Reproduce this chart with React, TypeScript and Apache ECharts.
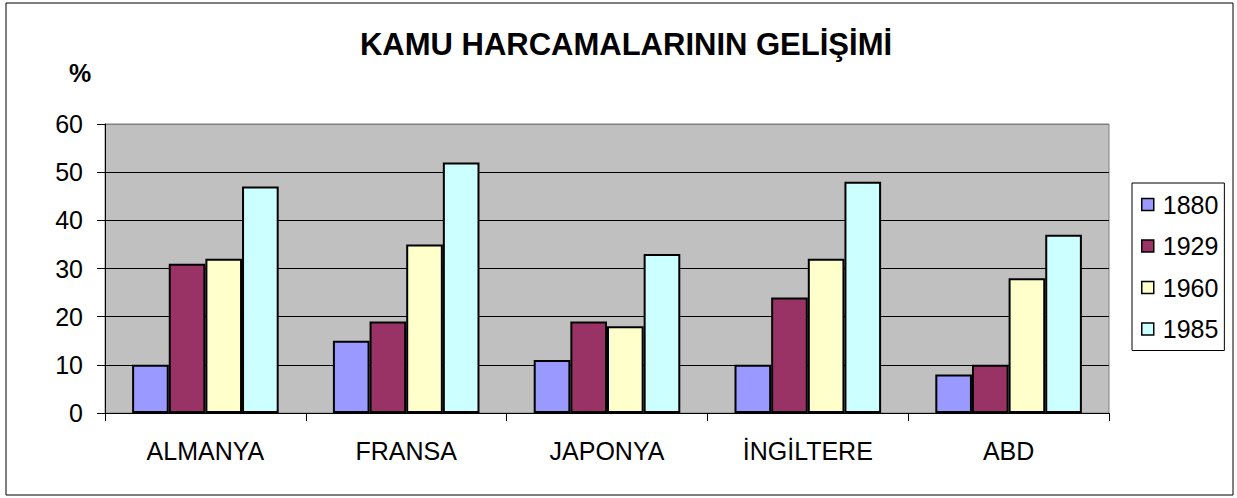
import React, { useEffect, useRef } from "react";
import * as echarts from "echarts";

const categories = ["ALMANYA", "FRANSA", "JAPONYA", "İNGİLTERE", "ABD"];
const years = ["1880", "1929", "1960", "1985"];
const v1880 = [10, 15, 11, 10, 8];
const v1929 = [31, 19, 19, 24, 10];
const v1960 = [32, 35, 18, 32, 28];
const v1985 = [47, 52, 33, 48, 37];
const colors = ["#9999FF", "#993366", "#FFFFCC", "#CCFFFF"];
const yTicks = [0, 10, 20, 30, 40, 50, 60];

const FONT = "'Liberation Sans', Arial, sans-serif";

export default function App() {
  const ref = useRef<HTMLDivElement>(null);
  useEffect(() => {
    document.body.style.margin = "0";
    const chart = echarts.init(ref.current!, undefined, { renderer: "svg" });
    const seriesData = [v1880, v1929, v1960, v1985];
    chart.setOption({
      animation: false,
      backgroundColor: "#FFFFFF",
      textStyle: { fontFamily: FONT },
      title: {
        text: "KAMU HARCAMALARININ GELİŞİMİ",
        left: 621,
        top: 24,
        textAlign: "center",
        textStyle: { fontFamily: FONT, fontSize: 31, fontWeight: "bold", color: "#000" },
      },
      graphic: [
        {
          type: "rect",
          shape: { x: 6, y: 3, width: 1227, height: 492 },
          style: { fill: "none", stroke: "#000", lineWidth: 1 },
          silent: true,
        },
        {
          type: "text",
          x: 80,
          y: 73,
          style: {
            text: "%",
            fontFamily: FONT,
            fontSize: 25,
            fontWeight: "bold",
            fill: "#000",
            align: "center",
            verticalAlign: "middle",
          },
        },
      ],
      legend: {
        orient: "vertical",
        left: 1132,
        top: 183,
        padding: [9, 6, 9, 9],
        itemGap: 16.5,
        itemWidth: 12,
        itemHeight: 12,
        borderColor: "#000",
        borderWidth: 1,
        icon: "rect",
        data: years,
        itemStyle: { borderColor: "#000", borderWidth: 1.5 },
        textStyle: { fontFamily: FONT, fontSize: 25, color: "#000", padding: [0, 0, 0, 4] },
      },
      grid: {
        left: 105,
        right: 128,
        top: 124,
        bottom: 85,
        show: true,
        backgroundColor: "#C0C0C0",
        borderColor: "#808080",
        borderWidth: 1,
      },
      xAxis: {
        type: "category",
        data: categories,
        axisLine: { lineStyle: { color: "#000", width: 1 } },
        axisTick: { show: true, length: 8, lineStyle: { color: "#000" } },
        axisLabel: { fontFamily: FONT, fontSize: 25, color: "#000", margin: 25 },
      },
      yAxis: {
        type: "value",
        min: 0,
        max: 60,
        interval: 10,
        axisLine: { show: true, lineStyle: { color: "#000", width: 1 } },
        axisTick: { show: true, length: 8, lineStyle: { color: "#000" } },
        axisLabel: {
          fontFamily: FONT,
          fontSize: 25,
          color: "#000",
          margin: 22,
          formatter: (v: number) => (yTicks.includes(v) ? String(v) : ""),
        },
        splitLine: {
          show: true,
          lineStyle: {
            color: ["#000", "#000", "#000", "#000", "#000", "#000", "#808080"],
            width: 1,
          },
        },
      },
      series: years.map((y, i) => ({
        name: y,
        type: "bar",
        data: seriesData[i],
        barGap: "0%",
        barCategoryGap: "27%",
        itemStyle: { color: colors[i], borderColor: "#000", borderWidth: 2 },
      })),
    });
    return () => chart.dispose();
  }, []);
  return <div ref={ref} style={{ width: 1237, height: 498 }} />;
}
